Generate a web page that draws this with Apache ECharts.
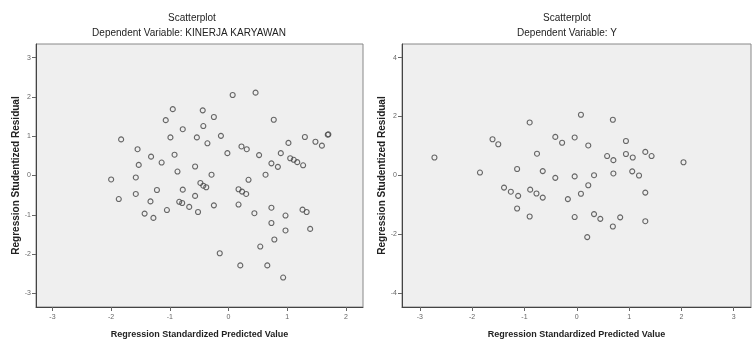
<!DOCTYPE html>
<html>
<head>
<meta charset="utf-8">
<script src="https://cdn.jsdelivr.net/npm/echarts@6/dist/echarts.min.js"></script>
<style>
  html, body { margin: 0; padding: 0; background: #fff; }
  #chart { width: 754px; height: 342px; }
</style>
</head>
<body>
<div id="chart"></div>
<script>
// left plot: Dependent Variable KINERJA KARYAWAN
const leftPredicted = [
  -0.95, -1.07, -0.78, -0.99, -0.54, -1.83, -1.55, -1.32, -0.92, -1.14,
  -1.53, -0.57, -0.87, -2.00, -1.58, -1.22, -0.78, -1.58, -0.57, -1.87,
  -1.33, -0.84, -0.79, -0.67, -1.05, -0.52, -1.43, -1.28, 0.46, 0.07,
  -0.44, -0.25, 0.77, -0.43, -0.13, -0.36, 1.30, 1.02, 1.69, 1.70,
  1.48, 1.59, 0.22, 0.31, -0.02, 0.52, 0.89, 1.05, 1.11, 1.17,
  1.27, 0.73, 0.84, -0.29, 0.63, 0.34, -0.48, -0.43, -0.38, 0.17,
  0.23, 0.30, -0.25, 0.17, 0.44, 0.73, 0.97, 1.26, 1.33, 0.73,
  0.97, 1.39, 0.78, 0.54, -0.15, 0.20, 0.66, 0.93
]
const leftResidual = [
  1.69, 1.41, 1.18, 0.97, 0.97, 0.92, 0.67, 0.48, 0.53, 0.33,
  0.27, 0.23, 0.10, -0.10, -0.05, -0.37, -0.36, -0.47, -0.52, -0.60,
  -0.66, -0.67, -0.70, -0.80, -0.88, -0.93, -0.97, -1.08, 2.11, 2.05,
  1.66, 1.49, 1.42, 1.26, 1.01, 0.82, 0.98, 0.83, 1.04, 1.05,
  0.86, 0.76, 0.74, 0.67, 0.57, 0.52, 0.57, 0.44, 0.40, 0.34,
  0.26, 0.31, 0.22, 0.02, 0.02, -0.11, -0.19, -0.26, -0.30, -0.35,
  -0.41, -0.47, -0.76, -0.74, -0.96, -0.82, -1.02, -0.87, -0.93, -1.21,
  -1.40, -1.36, -1.63, -1.81, -1.98, -2.29, -2.29, -2.60
]

// right plot: Dependent Variable Y
const rightPredicted = [
  -2.72, -1.85, -1.61, -1.50, -0.90, -0.76, -1.14, -0.65, -0.41, -0.28,
  -0.04, -0.41, -0.04, -1.39, -1.26, -1.12, -0.89, -0.77, -0.65, -0.17,
  -1.14, -0.90, -0.04, 0.08, 0.69, 0.22, 0.94, 0.58, 0.70, 0.94,
  1.07, 1.31, 1.43, 2.04, 0.33, 0.70, 1.06, 1.19, 0.22, 0.08,
  1.31, 0.33, 0.45, 0.83, 0.69, 1.31, 0.20
]
const rightResidual = [
  0.61, 0.10, 1.23, 1.06, 1.80, 0.74, 0.22, 0.15, 1.31, 1.11,
  1.29, -0.08, -0.03, -0.41, -0.55, -0.69, -0.48, -0.61, -0.75, -0.80,
  -1.12, -1.39, -1.41, 2.06, 1.89, 1.02, 1.17, 0.66, 0.52, 0.73,
  0.61, 0.80, 0.66, 0.45, 0.01, 0.07, 0.14, 0.00, -0.33, -0.62,
  -0.58, -1.31, -1.47, -1.42, -1.73, -1.55, -2.09
]

const leftXTicks = [-3, -2, -1, 0, 1, 2]
const leftYTicks = [-3, -2, -1, 0, 1, 2, 3]
const rightXTicks = [-3, -2, -1, 0, 1, 2, 3]
const rightYTicks = [-4, -2, 0, 2, 4]

const mainTitle = 'Scatterplot'
const leftSub = 'Dependent Variable: KINERJA KARYAWAN'
const rightSub = 'Dependent Variable: Y'
const xName = 'Regression Standardized Predicted Value'
const yName = 'Regression Studentized Residual'

const font = 'Liberation Sans, Arial, sans-serif'

function zip(xs, ys) {
  return xs.map((x, i) => [x, ys[i]])
}

function makeX(idx, min, max, ticks) {
  return {
    type: 'value', gridIndex: idx, min: min, max: max,
    name: xName, nameLocation: 'middle', nameGap: 23,
    nameTextStyle: { fontFamily: font, fontSize: 9, fontWeight: 'bold', color: '#222' },
    splitLine: { show: false },
    axisLine: { show: true, onZero: false, lineStyle: { color: '#444', width: 1 } },
    axisTick: { show: true, length: 4, customValues: ticks, lineStyle: { color: '#666' } },
    axisLabel: {
      customValues: ticks, margin: 7, fontSize: 7, color: '#666', fontFamily: font
    }
  }
}

function makeY(idx, min, max, ticks, gap) {
  return {
    type: 'value', gridIndex: idx, min: min, max: max,
    name: yName, nameLocation: 'middle', nameGap: gap, nameRotate: 90,
    nameTextStyle: { fontFamily: font, fontSize: 10, fontWeight: 'bold', color: '#222' },
    splitLine: { show: false },
    axisLine: { show: true, onZero: false, lineStyle: { color: '#444', width: 1 } },
    axisTick: { show: true, length: 4, customValues: ticks, lineStyle: { color: '#666' } },
    axisLabel: {
      customValues: ticks, margin: 5, fontSize: 7, color: '#666', fontFamily: font
    }
  }
}

const pointStyle = {
  color: 'rgba(0,0,0,0)',
  borderColor: '#444',
  borderWidth: 1.1
}

const chart = echarts.init(document.getElementById('chart'), null, { renderer: 'canvas' })

const option = {
  backgroundColor: '#fff',
  animation: false,
  title: [
    { text: mainTitle, left: 187, top: 8, textAlign: 'center',
      textStyle: { fontFamily: font, fontSize: 10, fontWeight: 'normal', color: '#222' } },
    { text: leftSub, left: 184, top: 23, textAlign: 'center',
      textStyle: { fontFamily: font, fontSize: 10, fontWeight: 'normal', color: '#222' } },
    { text: mainTitle, left: 562, top: 8, textAlign: 'center',
      textStyle: { fontFamily: font, fontSize: 10, fontWeight: 'normal', color: '#222' } },
    { text: rightSub, left: 562, top: 23, textAlign: 'center',
      textStyle: { fontFamily: font, fontSize: 10, fontWeight: 'normal', color: '#222' } }
  ],
  grid: [
    { left: 36, top: 44, width: 327, height: 263, show: true, outerBoundsMode: 'none',
      backgroundColor: '#efefef', borderColor: '#888', borderWidth: 1 },
    { left: 402, top: 44, width: 349, height: 263, show: true, outerBoundsMode: 'none',
      backgroundColor: '#efefef', borderColor: '#888', borderWidth: 1 }
  ],
  xAxis: [
    makeX(0, -3.28, 2.29, leftXTicks),
    makeX(1, -3.34, 3.33, rightXTicks)
  ],
  yAxis: [
    makeY(0, -3.35, 3.35, leftYTicks, 13),
    makeY(1, -4.46, 4.46, rightYTicks, 15)
  ],
  series: [
    {
      type: 'scatter', xAxisIndex: 0, yAxisIndex: 0,
      symbol: 'circle', symbolSize: 5,
      itemStyle: pointStyle,
      data: zip(leftPredicted, leftResidual)
    },
    {
      type: 'scatter', xAxisIndex: 1, yAxisIndex: 1,
      symbol: 'circle', symbolSize: 5,
      itemStyle: pointStyle,
      data: zip(rightPredicted, rightResidual)
    }
  ]
}

chart.setOption(option)
</script>
</body>
</html>
